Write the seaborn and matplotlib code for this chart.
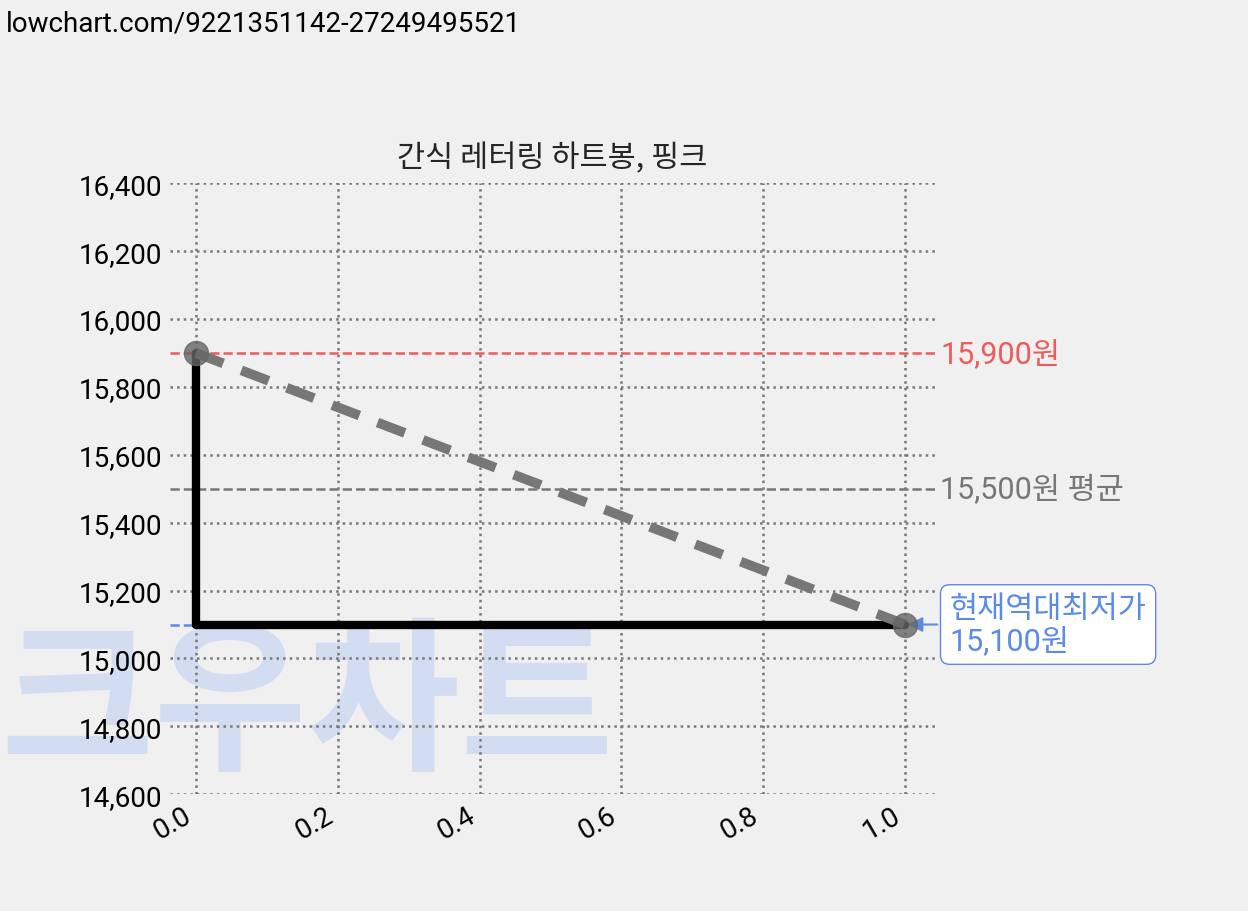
import matplotlib
matplotlib.use("Agg")
import matplotlib.pyplot as plt
import seaborn as sns

x_vals = [0.0, 1.0]
prices = [15900, 15100]
step_x = [0.0, 0.0, 1.0]
step_y = [15900, 15100, 15100]
max_price = 15900
avg_price = 15500
min_price = 15100
title = "간식 레터링 하트봉, 핑크"

sns.set_style("whitegrid")
plt.rcParams['font.family'] = ['Roboto', 'Noto Sans CJK KR', 'DejaVu Sans']

fig = plt.figure(figsize=(12.48, 9.12), dpi=100, facecolor='#f0f0f0')
ax = fig.add_axes([0.136, 0.128, 0.613, 0.670])
ax.patch.set_alpha(0)

fig.text(0.005, 0.965, "lowchart.com/9221351142-27249495521", fontsize=20, color='black')
fig.text(0.0, 0.17, "크우차트", fontsize=120, fontweight='black', color='#d3ddf2',
         family=['Noto Sans CJK KR'], zorder=-1)

ax.plot(step_x, step_y, color='black', linewidth=6, zorder=3)
sns.lineplot(x=x_vals, y=prices, ax=ax, color='#777777', linewidth=7, zorder=4)
ax.lines[-1].set_linestyle((0, (3, 2)))
ax.scatter(x_vals, prices, s=300, color='#666666', alpha=0.8, zorder=5)

ax.axhline(max_price, color='#f05a5a', linestyle='--', linewidth=1.8)
ax.axhline(avg_price, color='#777777', linestyle='--', linewidth=1.8)
ax.plot([-0.037, 1.0], [min_price, min_price], color='#5b8be8', linestyle='--', linewidth=1.8)

ax.text(1.05, max_price, f"{max_price:,}원", color='#f05a5a', fontsize=22, va='center')
ax.text(1.05, avg_price, f"{avg_price:,}원 평균", color='#777777', fontsize=22, va='center')
ax.annotate(f"현재역대최저가\n{min_price:,}원", xy=(1.0, min_price), xytext=(1.063, min_price),
            color='#5b8be8', fontsize=22, va='center', linespacing=1.1,
            bbox=dict(boxstyle='round,pad=0.3', fc='white', ec='#5b8be8'),
            arrowprops=dict(arrowstyle='-|>', color='#5b8be8', lw=1.5))

ax.set_xlim(-0.037, 1.042)
ax.set_ylim(14600, 16400)
ax.set_xticks([0.0, 0.2, 0.4, 0.6, 0.8, 1.0])
ax.set_xticklabels(['0.0', '0.2', '0.4', '0.6', '0.8', '1.0'], rotation=30, ha='right')
ax.set_yticks(range(14600, 16401, 200))
ax.set_yticklabels([f"{v:,}" for v in range(14600, 16401, 200)])
ax.tick_params(labelsize=20, colors='black', pad=2)
ax.grid(True, color='#777777', linestyle=':', linewidth=1.8)
for s in ax.spines.values():
    s.set_visible(False)
ax.set_title(title, fontsize=22, family=['Noto Sans CJK KR'], pad=12)

fig.savefig("out.png", dpi=100, facecolor='#f0f0f0')
